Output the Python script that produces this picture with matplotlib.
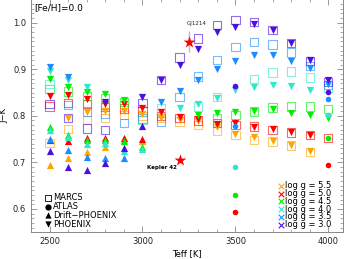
import numpy as np
import matplotlib
matplotlib.use("Agg")
import matplotlib.pyplot as plt
from matplotlib.ticker import MultipleLocator

nan = np.nan
teff = [2500, 2600, 2700, 2800, 2900, 3000, 3100, 3200, 3300, 3400, 3500, 3600, 3700, 3800, 3900, 4000]
loggs = ["5.5", "5.0", "4.5", "4.0", "3.5", "3.0"]
colors = {"5.5": "#FFA500", "5.0": "#FF0000", "4.5": "#00EE00",
          "4.0": "#30E8C8", "3.5": "#1E8CFF", "3.0": "#4A10E0"}

# MARCS (open squares)
marcs = {
    "5.5": [0.742, 0.772, 0.791, 0.795, 0.802, 0.800, 0.795, 0.788, 0.780, 0.767, 0.759, 0.748, 0.745, 0.736, 0.723, nan],
    "5.0": [0.820, 0.828, 0.826, 0.819, 0.816, 0.809, 0.800, 0.795, 0.790, 0.785, 0.780, 0.777, 0.770, 0.764, 0.759, 0.752],
    "4.5": [0.858, 0.852, 0.843, 0.838, 0.830, nan, nan, nan, nan, 0.795, 0.802, 0.809, 0.818, 0.820, 0.820, 0.814],
    "4.0": [0.868, nan, nan, nan, nan, 0.791, 0.816, nan, 0.820, 0.841, nan, 0.879, 0.893, 0.895, 0.882, 0.860],
    "3.5": [nan, 0.823, 0.809, 0.805, 0.784, 0.794, 0.788, 0.841, 0.884, 0.920, 0.948, 0.959, 0.953, 0.936, 0.907, 0.866],
    "3.0": [0.825, 0.795, 0.773, 0.770, nan, 0.827, 0.877, 0.925, 0.966, 0.995, 1.006, 1.002, 0.984, 0.956, 0.918, 0.873],
}
# PHOENIX (filled down triangles)
phoenix = {
    "5.5": [nan, 0.795, 0.808, 0.810, 0.810, 0.803, 0.795, 0.792, 0.788, 0.776, 0.760, 0.754, 0.745, 0.738, 0.725, nan],
    "5.0": [0.843, 0.845, 0.836, 0.825, 0.826, 0.817, 0.809, 0.797, 0.794, 0.782, 0.784, 0.775, 0.771, 0.765, 0.759, nan],
    "4.5": [0.879, 0.862, 0.852, 0.846, 0.834, nan, nan, nan, 0.802, 0.805, 0.808, 0.810, 0.815, 0.806, 0.802, 0.795],
    "4.0": [0.896, 0.877, 0.862, nan, nan, nan, nan, 0.816, 0.826, 0.838, 0.855, 0.862, 0.866, 0.864, 0.856, nan],
    "3.5": [0.905, 0.884, nan, nan, nan, nan, 0.830, 0.854, 0.877, 0.900, 0.918, 0.930, 0.930, 0.917, 0.903, 0.868],
    "3.0": [nan, nan, nan, 0.830, nan, 0.841, 0.877, 0.909, 0.943, 0.979, 0.991, 0.998, 0.984, 0.956, 0.920, 0.877],
}
# Drift-PHOENIX (filled up triangles), 2500-3000 K
drift_teff = [2500, 2600, 2700, 2800, 2900, 3000]
drift = {
    "5.5": [0.694, 0.709, 0.722, 0.734, 0.748, 0.746],
    "5.0": [0.748, 0.746, 0.753, 0.752, 0.752, 0.750],
    "4.5": [0.777, 0.759, 0.748, 0.748, 0.745, 0.734],
    "4.0": [0.770, 0.755, 0.739, 0.742, 0.724, 0.728],
    "3.5": [0.750, 0.727, 0.711, 0.709, 0.710, nan],
    "3.0": [0.724, 0.691, 0.684, 0.698, 0.730, 0.779],
}
# ATLAS (filled circles)
atlas_teff = [3500, 4000]
atlas = {
    "5.0": [0.594, 0.694],
    "4.5": [0.629, 0.752],
    "4.0": [0.690, 0.802],
    "3.5": [0.778, 0.835],
    "3.0": [0.863, 0.852],
}
# observed stars
star_names = ["GJ1214", "Kepler 42"]
star_teff = [3250, 3200]
star_jk = [0.959, 0.705]
star_err = [0.023, 0.0]
label_teff = [3289, 3106]
label_jk = [0.997, 0.688]

W, H = 347, 259
fig = plt.figure(figsize=(W / 100, H / 100), dpi=100)
ax = fig.add_axes([31 / W, (H - 232.3) / H, 312 / W, 233 / H])

for g in loggs:
    c = colors[g]
    ax.scatter(teff, marcs[g], marker="s", s=6.0**2, facecolors="none",
               edgecolors=c, linewidths=0.8, alpha=0.6, zorder=2)
for g in loggs:
    c = colors[g]
    ax.scatter(drift_teff, drift[g], marker="^", s=5.2**2, color=c, linewidths=0, zorder=3)
    ax.scatter(teff, phoenix[g], marker="v", s=5.2**2, color=c, linewidths=0, zorder=3)
for g in atlas:
    ax.scatter(atlas_teff, atlas[g], marker="o", s=4.0**2, color=colors[g], linewidths=0, zorder=4)

ax.errorbar(star_teff, star_jk, yerr=star_err, fmt="none", ecolor="#BBBBBB", elinewidth=1.0, zorder=4)
ax.scatter(star_teff, star_jk, marker="*", s=9**2, color="#FF0000", linewidths=0, zorder=5)
ax.text(label_teff[0], label_jk[0], star_names[0], ha="center", va="center",
        fontsize=4, color="#222222")
ax.text(label_teff[1], label_jk[1], star_names[1], ha="center", va="center",
        fontsize=4, fontweight="bold")

ax.set_xlim(2400, 4079)
ax.set_ylim(0.55, 1.05)
ax.xaxis.set_major_locator(MultipleLocator(500))
ax.xaxis.set_minor_locator(MultipleLocator(100))
ax.yaxis.set_major_locator(MultipleLocator(0.1))
ax.yaxis.set_minor_locator(MultipleLocator(0.01))
ax.tick_params(which="both", direction="in", top=True, right=True, colors="#888888",
               labelcolor="#222222", labelsize=6)
ax.tick_params(which="major", length=4, width=0.6)
ax.tick_params(which="minor", length=2, width=0.5)
for sp in ax.spines.values():
    sp.set_color("#888888")
    sp.set_linewidth(0.7)
ax.set_xlabel("Teff [K]", fontsize=6, labelpad=2)
ax.set_ylabel("J\u2212K", fontsize=6, labelpad=3)

ax.text(0.012, 0.985, "[Fe/H]=0.0", transform=ax.transAxes, ha="left", va="top", fontsize=6.5)

# model legend (bottom-left)
model_labels = ["MARCS", "ATLAS", "Drift\u2212PHOENIX", "PHOENIX"]
model_marks = ["s", "o", "^", "v"]
for i, (lab, mk) in enumerate(zip(model_labels, model_marks)):
    yp = 198 + i * 8.7
    xa, ya = (48 - 31) / 312, (232.3 - yp) / 233
    if mk == "s":
        ax.scatter([xa], [ya], marker=mk, s=4.5**2, facecolors="none", edgecolors="k",
                   linewidths=0.6, transform=ax.transAxes, clip_on=False, zorder=6)
    else:
        ax.scatter([xa], [ya], marker=mk, s=4.5**2, color="k", linewidths=0,
                   transform=ax.transAxes, clip_on=False, zorder=6)
    ax.text((53 - 31) / 312, ya, lab, transform=ax.transAxes, ha="left", va="center", fontsize=6)

# log g legend (bottom-right)
for i, g in enumerate(loggs):
    yp = 185.7 + i * 7.8
    ya = (232.3 - yp) / 233
    ax.scatter([(281 - 31) / 312], [ya], marker="x", s=4**2, color=colors[g], linewidths=0.8,
               transform=ax.transAxes, zorder=6)
    ax.text((285 - 31) / 312, ya, "log g = " + g, transform=ax.transAxes, ha="left",
            va="center", fontsize=6)

fig.savefig("out.png", dpi=100)
